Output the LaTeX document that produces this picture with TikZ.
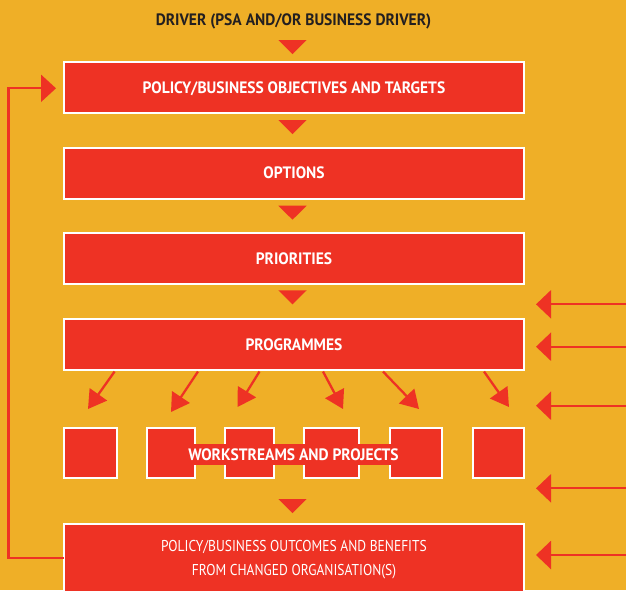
\documentclass[tikz,border=0pt]{standalone}
\usepackage{fontspec}
\usetikzlibrary{arrows.meta}
\newfontfamily\hfb[FakeStretch=0.94]{PT Sans}
\newfontfamily\hfr[FakeStretch=0.86]{PT Sans}
\definecolor{bg}{HTML}{EFAF27}
\definecolor{rd}{HTML}{EE3224}
\definecolor{ink}{HTML}{231F20}
\begin{document}
\begin{tikzpicture}[x=1pt,y=-1pt,
  capsb/.style={font=\hfb\bfseries\fontsize{16.5}{19}\selectfont,text height=11.6pt,text depth=0pt},
  bigbox/.style={fill=rd,draw=white,line width=2pt,inner sep=0pt,minimum width=460pt,minimum height=51pt,text=white,capsb},
  smallbox/.style={fill=rd,draw=white,line width=2pt,inner sep=0pt,minimum height=50.6pt},
  outline/.style={text=white,anchor=base,inner sep=0pt,font=\hfr\fontsize{15.7}{19}\selectfont},
  arr/.style={draw=rd,line width=2.3pt,-{Triangle[length=15pt,width=28pt]}},
  darr/.style={draw=rd,line width=2.3pt,-{Triangle[length=18pt,width=21pt]}},
  fb/.style={draw=rd,line width=2.3pt}
]
\useasboundingbox (0,0) rectangle (626,590);
\clip (0,0) rectangle (626,590);
\fill[bg] (0,0) rectangle (626,590);

% driver
\node[text=ink,capsb] (drv) at (293.5,19.2) {DRIVER (PSA AND/OR BUSINESS DRIVER)};

% main boxes
\node[bigbox] (obj) at (294,87.5) {POLICY/BUSINESS OBJECTIVES AND TARGETS};
\node[bigbox] (opt) at (294,173) {OPTIONS};
\node[bigbox] (pri) at (294,258.8) {PRIORITIES};
\node[bigbox] (prg) at (294,344.4) {PROGRAMMES};
\node[bigbox,minimum height=100pt] (out) at (294,573.7) {};
\node[outline] (outa) at (294,551) {POLICY/BUSINESS OUTCOMES AND BENEFITS};
\node[outline] (outb) at (294,575) {FROM CHANGED ORGANISATION(S)};

% triangles
\foreach \ty in {40,120,205.7,290.3,499} {
  \fill[rd] (278.3,\ty) -- (306.7,\ty) -- (292.5,\ty+14) -- cycle;
}

% workstream boxes
\node[smallbox,minimum width=53pt] (wa) at (90.5,453) {};
\node[smallbox,minimum width=48pt] (wb) at (171,453) {};
\node[smallbox,minimum width=49pt] (wc) at (249.5,453) {};
\node[smallbox,minimum width=55pt] (wd) at (331.5,453) {};
\node[smallbox,minimum width=52pt] (we) at (416,453) {};
\node[smallbox,minimum width=51pt] (wf) at (498.5,453) {};
\fill[rd] (194,444) rectangle (401,465);
\node[text=white,capsb] (ws) at (293.5,454.7) {WORKSTREAMS AND PROJECTS};

% diagonal arrows from programmes
\coordinate (s1) at (114.6,371.5); \coordinate (t1) at (88,409);
\coordinate (s2) at (198,371.5);   \coordinate (t2) at (171,412);
\coordinate (s3) at (259.5,371.5); \coordinate (t3) at (237.5,407);
\coordinate (s4) at (323,371.5);   \coordinate (t4) at (343,409);
\coordinate (s5) at (383,371.5);   \coordinate (t5) at (419,409);
\coordinate (s6) at (484,371.5);   \coordinate (t6) at (509,407);
\foreach \i in {1,...,6} { \draw[darr] (s\i) -- (t\i); }

% right-side input arrows
\foreach \i/\ry in {1/304.3,2/346.7,3/405.7,4/488.3,5/555} {
  \coordinate (r\i) at (630,\ry);
  \coordinate (rt\i) at (536,\ry);
  \draw[arr] (r\i) -- (rt\i);
}

% feedback loop
\coordinate (fbs) at (64,557.7);
\coordinate (fbc) at (8.4,557.7);
\coordinate (fbt) at (56,88.3);
\draw[fb,-{Triangle[length=15pt,width=27pt]}] (fbs) -- (fbc) |- (fbt);
\end{tikzpicture}
\end{document}
